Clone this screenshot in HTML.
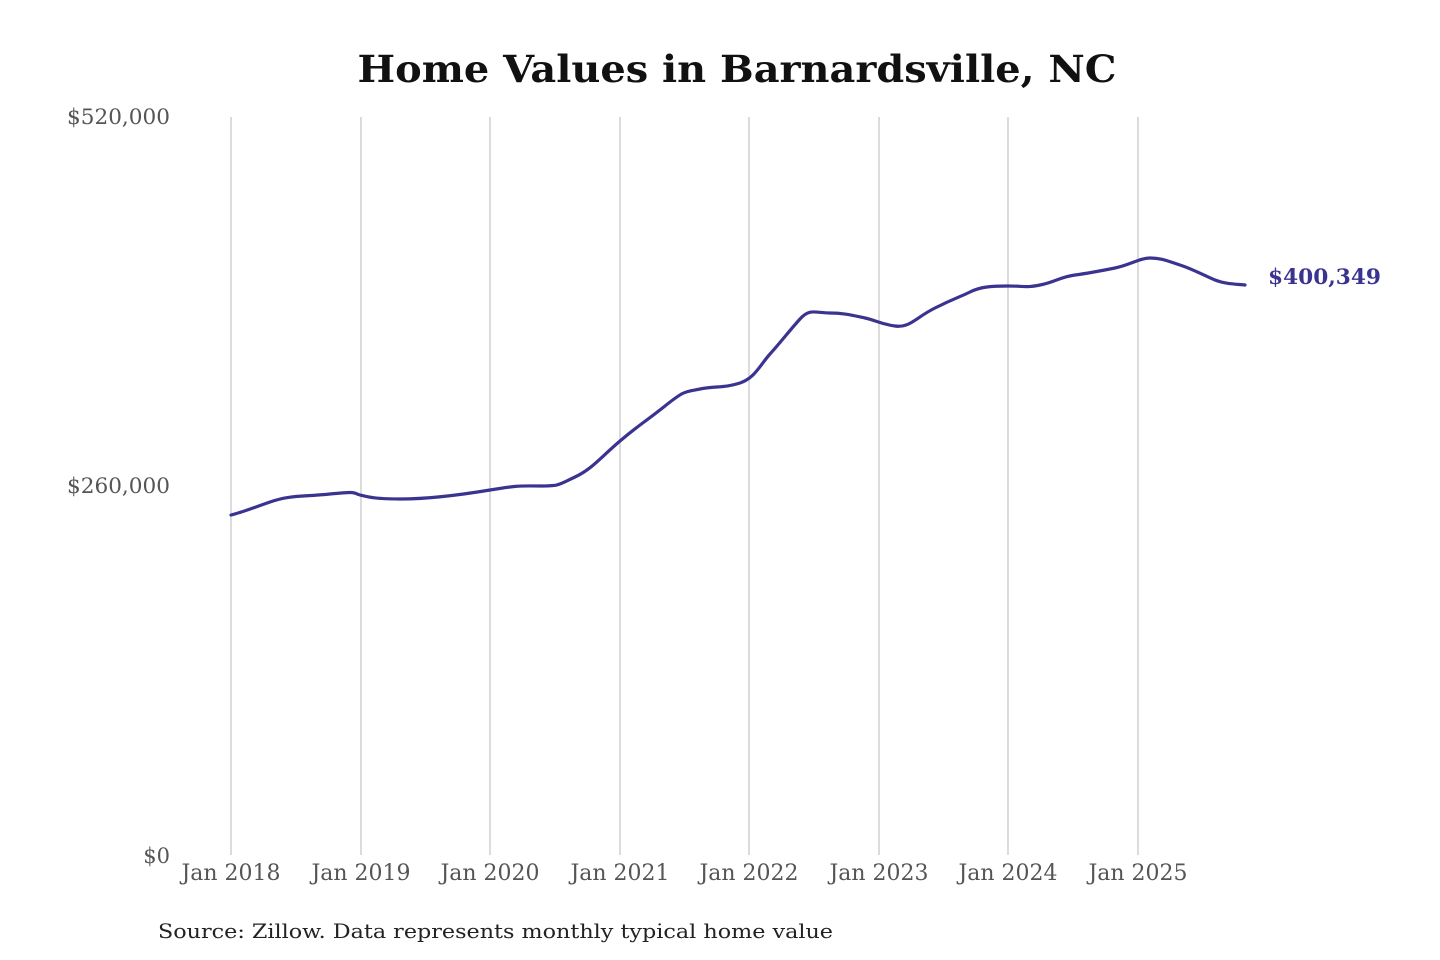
<!DOCTYPE html>
<html><head><meta charset="utf-8"><style>
html,body{margin:0;padding:0;background:#fff;}
svg{display:block;}
text{font-family:"DejaVu Serif","Liberation Serif",serif;}
</style></head><body>
<svg width="1440" height="960" viewBox="0 0 1440 960" xmlns="http://www.w3.org/2000/svg">
<rect width="1440" height="960" fill="#fff"/>
<text x="737" y="82" text-anchor="middle" font-size="37" font-weight="bold" fill="#111" textLength="759" lengthAdjust="spacingAndGlyphs">Home Values in Barnardsville, NC</text>
<g stroke="#c8c8c8" stroke-width="1.3">
<line x1="231" y1="117" x2="231" y2="855"/>
<line x1="361" y1="117" x2="361" y2="855"/>
<line x1="490" y1="117" x2="490" y2="855"/>
<line x1="620" y1="117" x2="620" y2="855"/>
<line x1="749" y1="117" x2="749" y2="855"/>
<line x1="879" y1="117" x2="879" y2="855"/>
<line x1="1008" y1="117" x2="1008" y2="855"/>
<line x1="1138" y1="117" x2="1138" y2="855"/>
</g>
<g font-size="21" fill="#555" text-anchor="end">
<text x="170" y="124" textLength="103" lengthAdjust="spacingAndGlyphs">$520,000</text>
<text x="170" y="493" textLength="103" lengthAdjust="spacingAndGlyphs">$260,000</text>
<text x="170" y="863">$0</text>
</g>
<g font-size="22" fill="#555" text-anchor="middle">
<text x="231" y="880" textLength="99" lengthAdjust="spacingAndGlyphs">Jan 2018</text>
<text x="361" y="880" textLength="99" lengthAdjust="spacingAndGlyphs">Jan 2019</text>
<text x="490" y="880" textLength="99" lengthAdjust="spacingAndGlyphs">Jan 2020</text>
<text x="620" y="880" textLength="99" lengthAdjust="spacingAndGlyphs">Jan 2021</text>
<text x="749" y="880" textLength="99" lengthAdjust="spacingAndGlyphs">Jan 2022</text>
<text x="879" y="880" textLength="99" lengthAdjust="spacingAndGlyphs">Jan 2023</text>
<text x="1008" y="880" textLength="99" lengthAdjust="spacingAndGlyphs">Jan 2024</text>
<text x="1138" y="880" textLength="99" lengthAdjust="spacingAndGlyphs">Jan 2025</text>
</g>
<path fill="none" stroke="#3a3390" stroke-width="3.2" stroke-linejoin="round" stroke-linecap="round"
d="M231,515 C240,513 250,509 270,502 S300,497 330,494 S352,493 360,495 S375,499 400,499 S460,495 490,490 S520,486 540,486 S558,485 575,477 S600,458 620,441 S645,422 665,406 S685,392 700,389 S725,388 740,383 S760,365 770,354 S790,330 800,319 S815,313 830,313 S855,316 865,318 S880,324 895,326 S915,318 935,308 S960,297 970,292 S990,286 1008,286 S1025,288 1040,285 S1060,277 1075,275 S1100,271 1115,268 S1140,258 1150,258 S1165,260 1180,265 S1205,276 1215,280 S1235,284 1245,285"/>
<text x="1268" y="284" font-size="21" font-weight="bold" fill="#3a3390" textLength="113" lengthAdjust="spacingAndGlyphs">$400,349</text>
<text x="158" y="938" font-size="20" fill="#222" textLength="675" lengthAdjust="spacingAndGlyphs">Source: Zillow. Data represents monthly typical home value</text>
</svg>
</body></html>
